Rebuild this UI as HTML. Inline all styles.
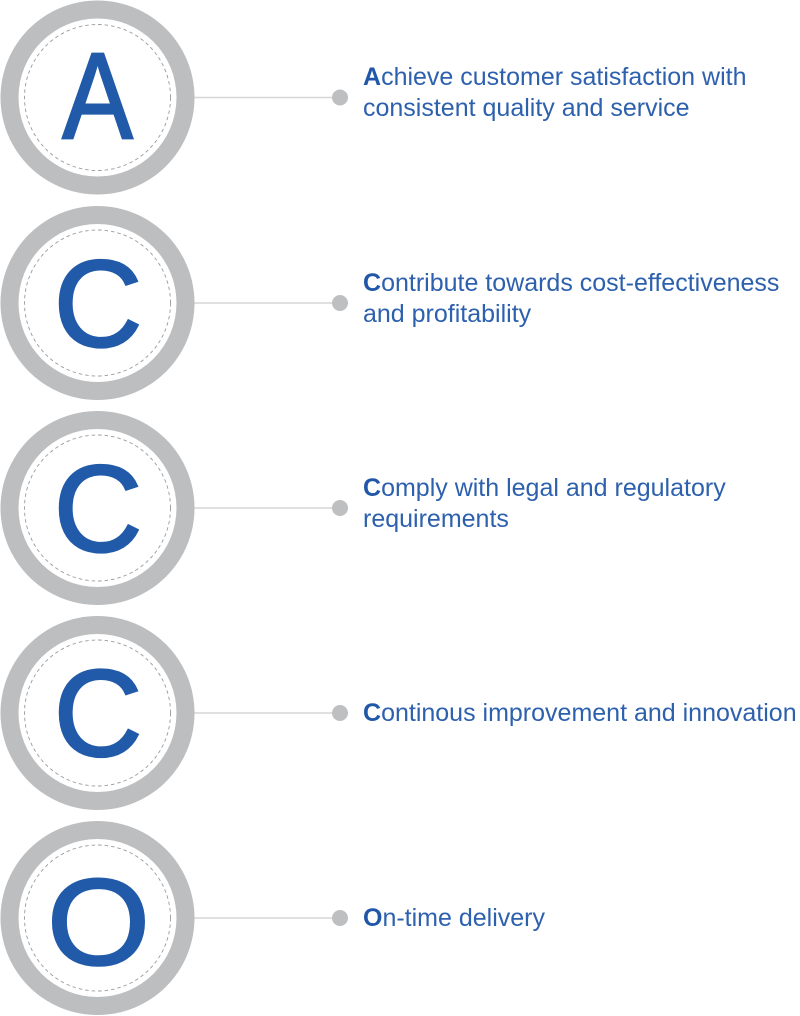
<!DOCTYPE html>
<html>
<head>
<meta charset="utf-8">
<style>
  html,body{margin:0;padding:0;background:#fff;}
  body{width:800px;height:1016px;position:relative;overflow:hidden;}
  svg{position:absolute;left:0;top:0;}
  .t{position:absolute;left:363px;font-family:"Liberation Sans",Arial,sans-serif;font-size:25px;line-height:31px;color:#2d60ad;letter-spacing:0;white-space:nowrap;}
  .t b{font-weight:bold;color:#2157a8;}
</style>
</head>
<body>
<svg width="800" height="1016" viewBox="0 0 800 1016">
  <g id="rows">
    <g stroke="#d6d6d6" stroke-width="1.5">
      <line x1="190" y1="97.5" x2="340" y2="97.5"/>
      <line x1="190" y1="303" x2="340" y2="303"/>
      <line x1="190" y1="508" x2="340" y2="508"/>
      <line x1="190" y1="713" x2="340" y2="713"/>
      <line x1="190" y1="918" x2="340" y2="918"/>
    </g>
    <g fill="#bebfc1">
      <circle cx="340" cy="97.5" r="8"/>
      <circle cx="340" cy="303" r="8"/>
      <circle cx="340" cy="508" r="8"/>
      <circle cx="340" cy="713" r="8"/>
      <circle cx="340" cy="918" r="8"/>
    </g>
    <g>
      <circle cx="97.5" cy="97.5" r="97" fill="#bdbec0"/>
      <circle cx="97.5" cy="97.5" r="79" fill="#fff"/>
      <circle cx="97.5" cy="97.5" r="73" fill="none" stroke="#9a9a9a" stroke-width="0.9" stroke-dasharray="3.5 3"/>

      <circle cx="97.5" cy="303" r="97" fill="#bdbec0"/>
      <circle cx="97.5" cy="303" r="79" fill="#fff"/>
      <circle cx="97.5" cy="303" r="73" fill="none" stroke="#9a9a9a" stroke-width="0.9" stroke-dasharray="3.5 3"/>

      <circle cx="97.5" cy="508" r="97" fill="#bdbec0"/>
      <circle cx="97.5" cy="508" r="79" fill="#fff"/>
      <circle cx="97.5" cy="508" r="73" fill="none" stroke="#9a9a9a" stroke-width="0.9" stroke-dasharray="3.5 3"/>

      <circle cx="97.5" cy="713" r="97" fill="#bdbec0"/>
      <circle cx="97.5" cy="713" r="79" fill="#fff"/>
      <circle cx="97.5" cy="713" r="73" fill="none" stroke="#9a9a9a" stroke-width="0.9" stroke-dasharray="3.5 3"/>

      <circle cx="97.5" cy="918" r="97" fill="#bdbec0"/>
      <circle cx="97.5" cy="918" r="79" fill="#fff"/>
      <circle cx="97.5" cy="918" r="73" fill="none" stroke="#9a9a9a" stroke-width="0.9" stroke-dasharray="3.5 3"/>
    </g>
    <g fill="#215aa8" stroke="#215aa8" stroke-width="2.2" stroke-linejoin="miter" font-family="Liberation Sans, Arial, sans-serif" font-size="123" text-anchor="middle">
      <text transform="translate(97.5,138) scale(0.86,1)" x="0" y="0">A</text>
      <text x="98" y="346.5">C</text>
      <text x="98" y="551.5">C</text>
      <text x="98" y="756">C</text>
      <text transform="translate(98.5,964.5) scale(1.08,1)" x="0" y="0">O</text>
    </g>
  </g>
</svg>

<div class="t" style="top:62px;"><b>A</b>chieve customer satisfaction with<br>consistent quality and service</div>
<div class="t" style="top:267.5px;"><b>C</b>ontribute towards cost-effectiveness<br>and profitability</div>
<div class="t" style="top:473px;"><b>C</b>omply with legal and regulatory<br>requirements</div>
<div class="t" style="top:698px;"><b>C</b>ontinous improvement and innovation</div>
<div class="t" style="top:903px;"><b>O</b>n-time delivery</div>
</body>
</html>
